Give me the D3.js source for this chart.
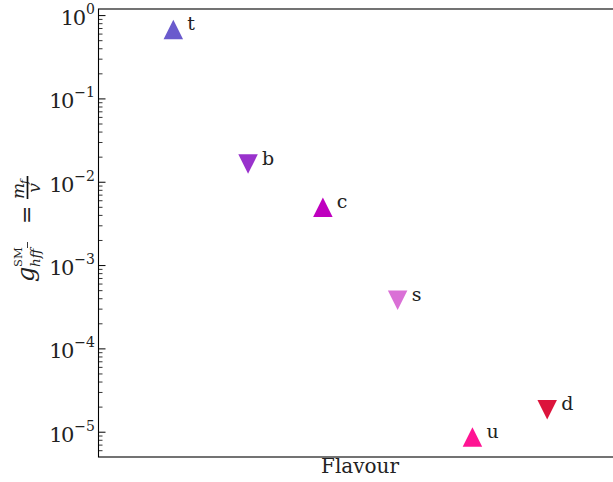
<!DOCTYPE html>
<html><head><meta charset="utf-8">
<script src="https://cdn.jsdelivr.net/npm/d3@7"></script>
<style>body{margin:0;background:#fff}svg{display:block}svg text{font-family:"DejaVu Serif",serif}</style>
</head><body>
<svg id="c" width="613" height="482"></svg>
<script>
const flavours = ["t","b","c","s","u","d"];
const couplings = [0.683, 0.0165, 0.0050, 0.000383, 0.00000875, 0.0000186];
const markerDir = ["up","down","up","down","up","down"];
const colours = ["#6A5ACD","#9932CC","#BF00BF","#DA70D6","#FF1493","#DC143C"];
const yTickExps = [0,-1,-2,-3,-4,-5];

const svg = d3.select("#c");
const mLeft = 98.5, mTop = 9, mBottom = 457, mRight = 622;

const x = d3.scaleLinear().domain([-1, 6]).range([mLeft, mRight]);
const y = d3.scaleLog().domain([5.04e-6, 1.20]).range([mBottom, mTop]);

svg.append("rect").attr("x", mLeft).attr("y", mTop).attr("width", mRight-mLeft).attr("height", mBottom-mTop)
  .attr("fill","none").attr("stroke","#000").attr("stroke-width",1.1);

const g = svg.append("g");
const minors = [];
for (let e = -6; e <= 0; e++) for (let k = 2; k <= 9; k++) {
  const v = k*Math.pow(10,e);
  if (v >= y.domain()[0] && v <= y.domain()[1]) minors.push(v);
}
g.selectAll("line.minor").data(minors).enter().append("line")
  .attr("x1", mLeft).attr("x2", mLeft+4).attr("y1", d=>y(d)).attr("y2", d=>y(d))
  .attr("stroke","#000").attr("stroke-width",0.8);
g.selectAll("line.major").data(yTickExps).enter().append("line")
  .attr("x1", mLeft).attr("x2", mLeft+7).attr("y1", d=>y(Math.pow(10,d))).attr("y2", d=>y(Math.pow(10,d)))
  .attr("stroke","#000").attr("stroke-width",1);
const tl = g.selectAll("text.tl").data(yTickExps).enter().append("text")
  .attr("x", mLeft-3.5).attr("y", d=>y(Math.pow(10,d))+9.5)
  .attr("text-anchor","end").attr("font-size",21).attr("fill","#222");
tl.append("tspan").attr("letter-spacing",-1.5).text("10");
tl.append("tspan").attr("dx",1.5).attr("dy",-11).attr("font-size",14).text(d=> d===0 ? "0" : "\u2212"+(-d));

// matplotlib-like triangle (bbox-centred); size = side length
const tri = { draw(ctx, s) { const h = s/2; ctx.moveTo(0,-h); ctx.lineTo(h,h); ctx.lineTo(-h,h); ctx.closePath(); } };
const sym = d3.symbol().type(tri).size(19.5);
const pts = svg.append("g").selectAll("g").data(flavours).enter().append("g")
  .attr("transform",(d,i)=>`translate(${x(i)},${y(couplings[i])}) rotate(${markerDir[i]==="down"?180:0})`);
pts.append("path").attr("d", sym).attr("fill",(d,i)=>colours[i]);
svg.append("g").selectAll("text").data(flavours).enter().append("text")
  .attr("x",(d,i)=>x(i)+14).attr("y",(d,i)=>y(couplings[i])+0.5)
  .attr("font-size",19).attr("fill","#222").text(d=>d);

svg.append("text").attr("x",360).attr("y",473).attr("text-anchor","middle")
  .attr("font-size",20).attr("fill","#222").text("Flavour");

// y label (rotated): local (lx, ly) -> screen (33+ly, 232-lx)
const yl = svg.append("g").attr("transform","translate(34,232) rotate(-90)");
const T = (xx,yy,fs,txt,it)=>yl.append("text").attr("x",xx).attr("y",yy).attr("font-size",fs)
  .attr("font-style",it?"italic":"normal").attr("fill","#222").text(txt);
T(-50,0,24,"g",true);
T(-35,-12,11.5,"SM",false);
T(-35,6,13.5,"hff",true);
yl.append("line").attr("x1",-16).attr("x2",-10).attr("y1",-6.5).attr("y2",-6.5).attr("stroke","#222").attr("stroke-width",0.9);
T(8,0,22,"=",false);
T(33,-10,17,"m",true);
T(48,-6.5,11,"f",true);
yl.append("line").attr("x1",33).attr("x2",56).attr("y1",-6.5).attr("y2",-6.5).attr("stroke","#111").attr("stroke-width",1.7);
yl.append("text").attr("x",44).attr("y",6).attr("text-anchor","middle").attr("font-size",17).attr("font-style","italic").attr("fill","#222").text("v");
</script>
</body></html>
